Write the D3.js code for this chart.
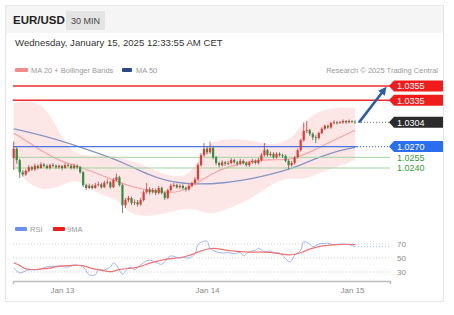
<!DOCTYPE html>
<html>
<head>
<meta charset="utf-8">
<script src="https://cdn.jsdelivr.net/npm/d3@7"></script>
<style>
  body { margin: 0; background: #fff; }
  svg { font-family: "Liberation Sans", Arial, sans-serif; }
</style>
</head>
<body>
<svg id="chart" width="454" height="315"></svg>
<script>
// ---- data ----
var symbol = 'EUR/USD';
var period = '30 MIN';
var stamp = 'Wednesday, January 15, 2025 12:33:55 AM CET';

// 30 minute candles, first one Jan 12 16:00
var startTime = Date.UTC(2025, 0, 12, 16, 0);
var stepMs = 30 * 60 * 1000;
var firstOpen = 1.0254;
var closes = [
  1.0267,1.0251,1.0234,1.0231,1.0236,1.0241,1.0238,1.0243,1.0240,1.0245,
  1.0243,1.0240,1.0244,1.0243,1.0241,1.0243,1.0240,1.0244,1.0243,1.0240,
  1.0243,1.0241,1.0234,1.0216,1.0212,1.0215,1.0212,1.0216,1.0217,1.0213,
  1.0219,1.0220,1.0213,1.0223,1.0227,1.0216,1.0188,1.0195,1.0198,1.0191,
  1.0192,1.0189,1.0195,1.0206,1.0210,1.0206,1.0209,1.0205,1.0212,1.0205,
  1.0198,1.0209,1.0215,1.0216,1.0213,1.0215,1.0212,1.0210,1.0215,1.0219,
  1.0224,1.0244,1.0258,1.0267,1.0262,1.0268,1.0255,1.0247,1.0244,1.0248,
  1.0246,1.0247,1.0251,1.0248,1.0246,1.0250,1.0247,1.0244,1.0248,1.0250,
  1.0247,1.0251,1.0258,1.0265,1.0258,1.0260,1.0255,1.0260,1.0258,1.0257,
  1.0250,1.0244,1.0247,1.0255,1.0265,1.0279,1.0292,1.0293,1.0288,1.0283,
  1.0282,1.0289,1.0295,1.0299,1.0297,1.0303,1.0304,1.0303,1.0304,1.0306,
  1.0304,1.0306,1.0305,1.0304
];
var highs = [
  1.0277,1.0269,1.0253,1.0237,1.0238,1.0244,1.0243,1.0246,1.0245,1.0248,
  1.0247,1.0245,1.0246,1.0247,1.0245,1.0245,1.0244,1.0247,1.0246,1.0245,
  1.0246,1.0245,1.0243,1.0236,1.0218,1.0218,1.0217,1.0219,1.0221,1.0219,
  1.0222,1.0224,1.0222,1.0226,1.0232,1.0229,1.0218,1.0198,1.0201,1.0200,
  1.0196,1.0195,1.0198,1.0209,1.0219,1.0213,1.0212,1.0211,1.0215,1.0214,
  1.0207,1.0211,1.0218,1.0219,1.0218,1.0217,1.0217,1.0214,1.0217,1.0221,
  1.0227,1.0247,1.0261,1.0275,1.0270,1.0277,1.0270,1.0257,1.0249,1.0251,
  1.0250,1.0250,1.0254,1.0253,1.0250,1.0253,1.0252,1.0249,1.0250,1.0253,
  1.0252,1.0254,1.0261,1.0275,1.0267,1.0263,1.0262,1.0262,1.0262,1.0260,
  1.0259,1.0252,1.0250,1.0257,1.0267,1.0281,1.0304,1.0306,1.0295,1.0290,
  1.0286,1.0291,1.0297,1.0301,1.0301,1.0305,1.0307,1.0306,1.0306,1.0308,
  1.0307,1.0308,1.0307,1.0307
];
var lows = [
  1.0237,1.0246,1.0226,1.0228,1.0229,1.0234,1.0236,1.0236,1.0238,1.0239,
  1.0241,1.0238,1.0238,1.0241,1.0239,1.0239,1.0237,1.0239,1.0241,1.0238,
  1.0238,1.0239,1.0232,1.0213,1.0209,1.0210,1.0210,1.0211,1.0214,1.0211,
  1.0212,1.0217,1.0211,1.0212,1.0221,1.0214,1.0177,1.0184,1.0192,1.0188,
  1.0188,1.0186,1.0187,1.0193,1.0204,1.0203,1.0204,1.0202,1.0203,1.0203,
  1.0195,1.0196,1.0207,1.0213,1.0211,1.0211,1.0210,1.0207,1.0208,1.0213,
  1.0217,1.0222,1.0242,1.0256,1.0259,1.0260,1.0252,1.0244,1.0241,1.0242,
  1.0243,1.0244,1.0245,1.0246,1.0243,1.0244,1.0245,1.0242,1.0242,1.0246,
  1.0245,1.0245,1.0249,1.0256,1.0256,1.0256,1.0253,1.0253,1.0256,1.0254,
  1.0248,1.0238,1.0242,1.0245,1.0253,1.0263,1.0277,1.0289,1.0285,1.0279,
  1.0275,1.0280,1.0287,1.0293,1.0295,1.0295,1.0301,1.0301,1.0302,1.0302,
  1.0302,1.0303,1.0303,1.0302
];

// indicators, sampled at candle indices
var ma20Idx = [0,5,10,15,23,29,39,45,51,55,61,68,70,78,85,91,95,98,104,111,113];
var ma20Val = [1.0289,1.0276,1.0262,1.0250,1.0240,1.0230,1.0213,1.0209,1.0205,1.0206,1.0220,
               1.0237,1.0240,1.0250,1.0252,1.0251,1.0257,1.0262,1.0275,1.0289,1.0293];
var ma50Idx = [0,12,23,32,38,45,50,55,61,70,76,81,88,95,101,108,113];
var ma50Val = [1.0295,1.0283,1.0268,1.0255,1.0244,1.0230,1.0223,1.0219,1.0217,1.0219,1.0223,
               1.0227,1.0234,1.0244,1.0255,1.0265,1.0269];
var bbIdx = [0,5,10,14,18,22,28,34,38,44,50,56,60,64,68,74,80,86,92,96,100,106,113];
var bbUpper = [1.0331,1.0335,1.0328,1.0300,1.0268,1.0257,1.0258,1.0257,1.0251,1.0243,1.0230,1.0226,
               1.0240,1.0273,1.0280,1.0281,1.0278,1.0271,1.0280,1.0304,1.0318,1.0325,1.0324];
var bbLower = [1.0244,1.0216,1.0209,1.0212,1.0220,1.0223,1.0202,1.0199,1.0175,1.0172,1.0176,1.0183,
               1.0183,1.0175,1.0178,1.0188,1.0200,1.0220,1.0227,1.0223,1.0231,1.0240,1.0251];

var resistances = [1.0355, 1.0335];
var lastPrice = 1.0304;
var pivot = 1.0270;
var supports = [1.0255, 1.0240];

var rsiIdx = [0,2,5,8,10,12,15,18,20,23,25,27,28,30,32,33,34,36,38,39,40,42,44,45,47,49,51,52,55,56,58,
              60,61,63,64,65,67,70,71,73,75,76,78,80,81,83,85,86,88,89,91,92,93,95,96,98,99,101,103,104,
              106,108,109,111,113];
var rsiVal = [36,29,33,33,36,38,38,37,40,37,26,26,33,33,37,43,40,27,36,36,33,40,46,47,44,41,50,53,50,51,50,
              56,69,74,74,64,59,57,58,56,58,53,59,61,64,59,60,58,57,54,45,46,54,61,73,70,66,70,71,71,
              69,70,70,69,66];
var rsiMaIdx = [0,2,3,5,8,12,15,18,22,23,25,28,32,33,35,38,41,45,48,51,55,58,61,65,67,70,71,75,80,85,89,
                92,95,98,101,106,111,113];
var rsiMaVal = [43,40,36,33,34,35,39,39,40,39,36,33,30,31,34,35,36,43,46,49,50,53,59,64,64,61,61,59,58,59,55,
                54,57,63,67,69,70,69];
var rsiTicks = [70, 50, 30];
var dayTicks = [Date.UTC(2025, 0, 13), Date.UTC(2025, 0, 14), Date.UTC(2025, 0, 15)];

// ---- build candles ----
var candles = [];
for (var i = 0; i < closes.length; i++) {
  candles.push({
    date: new Date(startTime + i * stepMs),
    open: i == 0 ? firstOpen : closes[i - 1],
    high: highs[i],
    low: lows[i],
    close: closes[i]
  });
}
function idxDate(k) { return new Date(startTime + k * stepMs); }
function pairs(idx, val) { return idx.map(function(k, j) { return { date: idxDate(k), value: val[j] }; }); }

var svg = d3.select('#chart');

// card + header
svg.append('rect').attr('x', 5.5).attr('y', 5.5).attr('width', 438).attr('height', 296)
  .attr('fill', '#fff').attr('stroke', '#e6e6e6');
svg.append('rect').attr('x', 6).attr('y', 6).attr('width', 437).attr('height', 27).attr('fill', '#f5f5f5');
svg.append('text').attr('x', 13).attr('y', 24).attr('font-size', 11.5).attr('font-weight', 'bold')
  .attr('fill', '#222').text(symbol);
svg.append('rect').attr('x', 66).attr('y', 11).attr('width', 39).attr('height', 19).attr('fill', '#e4e4e4');
svg.append('text').attr('x', 85.5).attr('y', 24).attr('text-anchor', 'middle').attr('font-size', 9)
  .attr('fill', '#444').text(period);
svg.append('text').attr('x', 15).attr('y', 46).attr('font-size', 9.6).attr('fill', '#333').text(stamp);

// legend
svg.append('rect').attr('x', 15).attr('y', 68).attr('width', 13).attr('height', 4).attr('rx', 1).attr('fill', '#f48a8a');
svg.append('text').attr('x', 31).attr('y', 73).attr('font-size', 7.5).attr('fill', '#999').text('MA 20 + Bollinger Bands');
svg.append('rect').attr('x', 122).attr('y', 68).attr('width', 10).attr('height', 4).attr('rx', 1).attr('fill', '#2b4a8c');
svg.append('text').attr('x', 136).attr('y', 73).attr('font-size', 7.5).attr('fill', '#999').text('MA 50');
svg.append('text').attr('x', 438).attr('y', 73).attr('text-anchor', 'end').attr('font-size', 7.5)
  .attr('fill', '#999').text('Research \u00a9 2025 Trading Central');

// scales
var x = d3.scaleTime()
  .domain([new Date(Date.UTC(2025, 0, 12, 15, 53)), new Date(Date.UTC(2025, 0, 15, 6, 17))])
  .range([13, 390]);
var y = d3.scaleLinear().domain([1.0240, 1.0355]).range([168, 86]);
var yr = d3.scaleLinear().domain([30, 70]).range([272, 244]);

var main = svg.append('g');

// bollinger band fill
var band = d3.area()
  .x(function(d) { return x(d.date); })
  .y0(function(d) { return y(d.lo); })
  .y1(function(d) { return y(d.hi); })
  .curve(d3.curveBasis);
var bandData = bbIdx.map(function(k, j) { return { date: idxDate(k), hi: bbUpper[j], lo: bbLower[j] }; });
main.append('path').datum(bandData).attr('d', band).attr('fill', '#fde3e3').attr('opacity', 0.9);

var line = d3.line()
  .x(function(d) { return x(d.date); })
  .y(function(d) { return y(d.value); })
  .curve(d3.curveBasis);

// moving averages
main.append('path').datum(pairs(ma50Idx, ma50Val)).attr('d', line)
  .attr('fill', 'none').attr('stroke', '#8496c4').attr('stroke-width', 1.3);
main.append('path').datum(pairs(ma20Idx, ma20Val)).attr('d', line)
  .attr('fill', 'none').attr('stroke', '#f4a4a4').attr('stroke-width', 1.2);

// horizontal levels
var xL = x.range()[0], xR = x.range()[1];
var lastX = x(candles[candles.length - 1].date);
resistances.forEach(function(v) {
  main.append('line').attr('x1', xL).attr('x2', xR).attr('y1', y(v)).attr('y2', y(v))
    .attr('stroke', '#ef2b2b').attr('stroke-width', 1.5);
});
supports.forEach(function(v) {
  main.append('line').attr('x1', xL).attr('x2', xR).attr('y1', y(v)).attr('y2', y(v))
    .attr('stroke', '#9fd59f').attr('stroke-width', 1);
});
main.append('line').attr('x1', xL).attr('x2', lastX + 2).attr('y1', y(pivot)).attr('y2', y(pivot))
  .attr('stroke', '#4a74e6').attr('stroke-width', 1.3);
main.append('line').attr('x1', lastX + 2).attr('x2', xR).attr('y1', y(pivot)).attr('y2', y(pivot))
  .attr('stroke', '#4a74e6').attr('stroke-width', 1.3).attr('stroke-dasharray', '1,2');
main.append('line').attr('x1', lastX + 3).attr('x2', xR).attr('y1', y(lastPrice)).attr('y2', y(lastPrice))
  .attr('stroke', '#666').attr('stroke-width', 1).attr('stroke-dasharray', '1,2');

// candles
var upColor = '#e53935', downColor = '#2f8f3f';
var cg = main.append('g');
cg.selectAll('line.wick').data(candles).enter().append('line')
  .attr('class', 'wick')
  .attr('x1', function(d) { return x(d.date); })
  .attr('x2', function(d) { return x(d.date); })
  .attr('y1', function(d) { return y(d.high); })
  .attr('y2', function(d) { return y(d.low); })
  .attr('stroke', function(d) { return d.close >= d.open ? '#b84040' : '#4a6a4a'; })
  .attr('stroke-width', 0.8);
cg.selectAll('rect.body').data(candles).enter().append('rect')
  .attr('class', 'body')
  .attr('x', function(d) { return x(d.date) - 1.1; })
  .attr('width', 2.2)
  .attr('y', function(d) { return y(Math.max(d.open, d.close)); })
  .attr('height', function(d) { return Math.max(0.8, Math.abs(y(d.open) - y(d.close))); })
  .attr('fill', function(d) { return d.close >= d.open ? upColor : downColor; });

// target arrow
svg.append('defs').append('marker')
  .attr('id', 'head').attr('viewBox', '0 0 10 10').attr('refX', 5).attr('refY', 5)
  .attr('markerWidth', 3.2).attr('markerHeight', 3.2).attr('orient', 'auto')
  .append('path').attr('d', 'M0,0 L10,5 L0,10 Z').attr('fill', '#2a5ea8');
main.append('line')
  .attr('x1', lastX + 4).attr('y1', y(lastPrice))
  .attr('x2', xR - 6).attr('y2', y(resistances[0]) + 4)
  .attr('stroke', '#2a5ea8').attr('stroke-width', 2.6).attr('marker-end', 'url(#head)');

// price tags
function tag(v, fill, textColor) {
  var yy = y(v), x0 = xR - 1, x1 = 443, h = 5.5;
  if (fill) {
    svg.append('path')
      .attr('d', 'M' + x0 + ',' + yy + 'L' + (x0 + 5) + ',' + (yy - h) + 'L' + x1 + ',' + (yy - h) +
                 'L' + x1 + ',' + (yy + h) + 'L' + (x0 + 5) + ',' + (yy + h) + 'Z')
      .attr('fill', fill);
  }
  svg.append('text').attr('x', x0 + 8).attr('y', yy + 3.3).attr('font-size', 9)
    .attr('fill', textColor).text(v.toFixed(4));
}
resistances.forEach(function(v) { tag(v, '#f01c1c', '#fff'); });
tag(lastPrice, '#2b2b2b', '#fff');
tag(pivot, '#2a6ef0', '#fff');
supports.forEach(function(v) { tag(v, null, '#3a9a3a'); });

// ---- RSI panel ----
svg.append('rect').attr('x', 15).attr('y', 227).attr('width', 12).attr('height', 4).attr('rx', 1).attr('fill', '#6d8ff0');
svg.append('text').attr('x', 30).attr('y', 231.5).attr('font-size', 7.5).attr('fill', '#999').text('RSI');
svg.append('rect').attr('x', 53).attr('y', 227).attr('width', 12).attr('height', 4).attr('rx', 1).attr('fill', '#f01c1c');
svg.append('text').attr('x', 67).attr('y', 231.5).attr('font-size', 7.5).attr('fill', '#999').text('9MA');

var rg = svg.append('g');
rsiTicks.forEach(function(v) {
  rg.append('line').attr('x1', xL).attr('x2', xR).attr('y1', yr(v)).attr('y2', yr(v))
    .attr('stroke', '#cfcfcf').attr('stroke-dasharray', '1,2');
  rg.append('text').attr('x', 397).attr('y', yr(v) + 3).attr('font-size', 8).attr('fill', '#888').text(v);
});
var rline = d3.line()
  .x(function(d) { return x(d.date); })
  .y(function(d) { return yr(d.value); })
  .curve(d3.curveCatmullRom);
var rsiData = pairs(rsiIdx, rsiVal);
rg.append('path').datum(rsiData).attr('d', rline)
  .attr('fill', 'none').attr('stroke', '#9db4f2').attr('stroke-width', 1);
rg.append('line').attr('x1', lastX).attr('x2', xR)
  .attr('y1', yr(rsiVal[rsiVal.length - 1])).attr('y2', yr(rsiVal[rsiVal.length - 1]))
  .attr('stroke', '#9db4f2').attr('stroke-dasharray', '1,2');
rg.append('path').datum(pairs(rsiMaIdx, rsiMaVal)).attr('d', rline.curve(d3.curveBasis))
  .attr('fill', 'none').attr('stroke', '#f27272').attr('stroke-width', 1.2);

// time axis
var xAxis = svg.append('g')
  .attr('transform', 'translate(0,281)')
  .call(d3.axisBottom(x).tickValues(dayTicks.map(function(t) { return new Date(t); }))
    .tickFormat(d3.utcFormat('%b %-d')).tickSize(0).tickSizeOuter(3).tickPadding(6));
xAxis.select('.domain').attr('stroke', '#bdbdbd').attr('stroke-width', 1.5);
xAxis.selectAll('text').attr('fill', '#888').attr('font-size', 8)
  .attr('font-family', '"Liberation Sans", Arial, sans-serif');
</script>
</body>
</html>
